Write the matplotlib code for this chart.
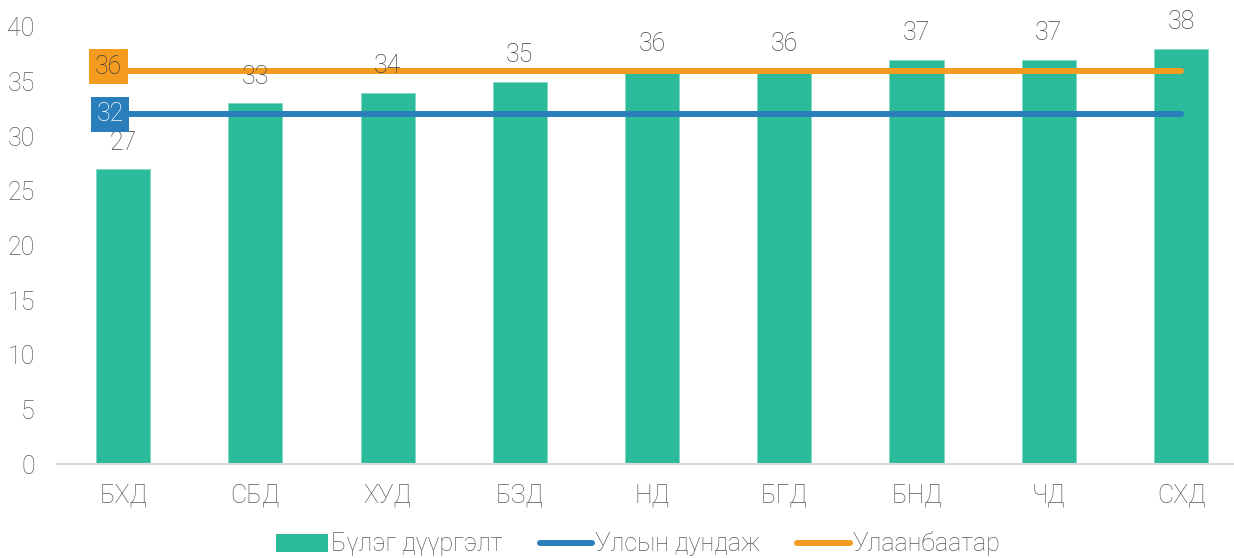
import matplotlib
matplotlib.use("Agg")
import matplotlib.pyplot as plt
from matplotlib.patches import Patch
from matplotlib.lines import Line2D

categories = ["БХД", "СБД", "ХУД", "БЗД", "НД", "БГД", "БНД", "ЧД", "СХД"]
values = [27, 33, 34, 35, 36, 36, 37, 37, 38]
national_avg = 32
ulaanbaatar = 36
yticks = [0, 5, 10, 15, 20, 25, 30, 35, 40]
legend_labels = ["Бүлэг дүүргэлт", "Улсын дундаж", "Улаанбаатар"]

green = "#2BBA9A"
blue = "#2A7FBA"
orange = "#F39C1F"

plt.rcParams["font.family"] = ["Roboto", "DejaVu Sans"]

W, H = 1234, 558
fig = plt.figure(figsize=(W / 100, H / 100), dpi=100)
ax = fig.add_axes([57 / W, (H - 464) / H, (1234 - 57) / W, (464 - 27) / H])

x = list(range(len(categories)))
ax.bar(x, values, width=0.41, color=green, edgecolor="#7FD8C4", linewidth=0.6, zorder=2)

ax.plot([x[0], x[-1]], [national_avg] * 2, color=blue, lw=4.3, solid_capstyle="round", zorder=3)
ax.plot([x[0], x[-1]], [ulaanbaatar] * 2, color=orange, lw=4.3, solid_capstyle="round", zorder=3)

for xi, v in zip(x, values):
    ax.annotate(str(v), (xi, v), xytext=(0, 19), textcoords="offset points",
                ha="center", va="center", fontsize=18, color="#404040",
                fontweight="light", zorder=4)

ax.text(-0.11, ulaanbaatar + 0.35, str(ulaanbaatar), ha="center", va="center", fontsize=18,
        color="#404040", fontweight="light", zorder=5,
        bbox=dict(boxstyle="square,pad=0.22", fc=orange, ec="none"))
ax.text(-0.10, national_avg, str(national_avg), ha="center", va="center", fontsize=18,
        color="white", fontweight="light", zorder=5,
        bbox=dict(boxstyle="square,pad=0.22", fc=blue, ec="none"))

ax.set_xlim(-0.5, 8.4)
ax.set_ylim(0, 40)
ax.set_yticks(yticks)
ax.set_xticks(x)
ax.set_xticklabels(categories)
ax.tick_params(axis="both", length=0, labelsize=18, labelcolor="#595959")
ax.tick_params(axis="y", pad=16)
ax.tick_params(axis="x", pad=14)
for lab in ax.get_xticklabels() + ax.get_yticklabels():
    lab.set_fontweight("light")
for s in ["top", "right", "left"]:
    ax.spines[s].set_visible(False)
ax.spines["bottom"].set_color("#D9D9D9")
ax.spines["bottom"].set_linewidth(1.5)

handles = [Patch(facecolor=green, edgecolor="none"),
           Line2D([0], [0], color=blue, lw=4.3, solid_capstyle="round"),
           Line2D([0], [0], color=orange, lw=4.3, solid_capstyle="round")]
leg = fig.legend(handles, legend_labels, loc="center", bbox_to_anchor=(0.517, 1 - 544 / H),
                 ncol=3, frameon=False, fontsize=18, handlelength=2.1, handleheight=0.7,
                 handletextpad=0.1, columnspacing=1.5, borderpad=0, borderaxespad=0)
for t in leg.get_texts():
    t.set_color("#595959")
    t.set_fontweight("light")

fig.savefig("out.png", dpi=100)
